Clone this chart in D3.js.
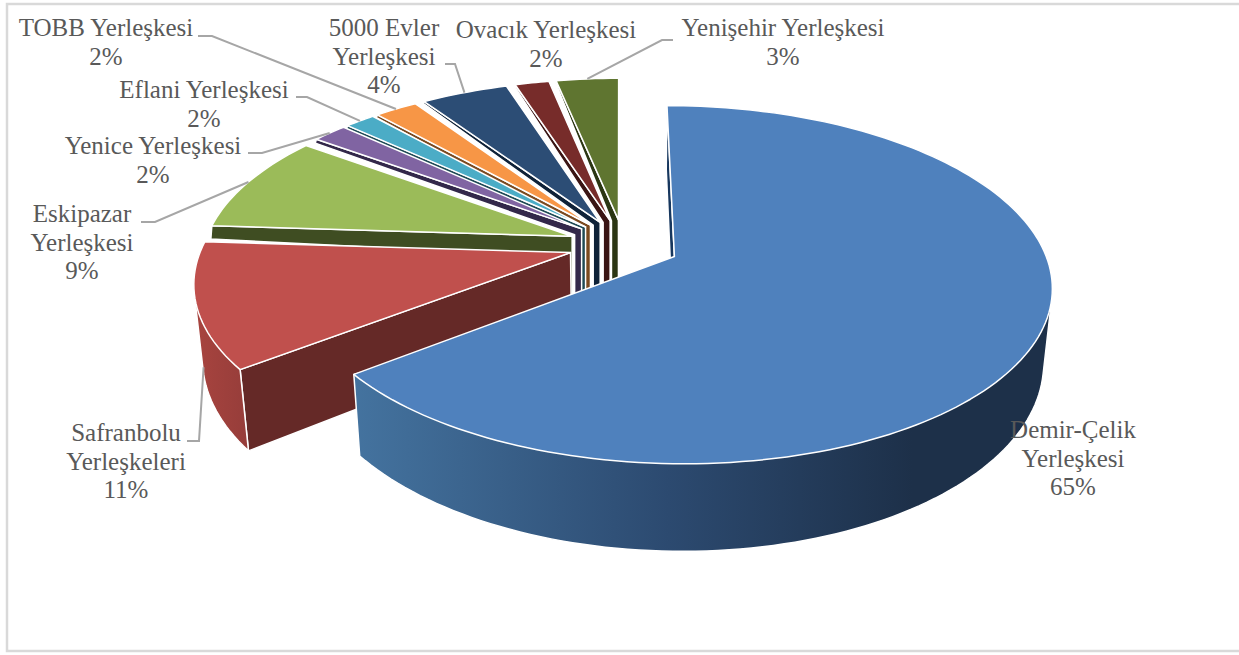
<!DOCTYPE html>
<html>
<head>
<meta charset="utf-8">
<script src="https://cdn.jsdelivr.net/npm/d3@7"></script>
<style>
	html, body { margin:0; padding:0; background:#fff; }
	svg { display:block; }
	.label { font-family:"Liberation Serif", serif; font-size:25px; fill:#595959; text-anchor:middle; }
	.leader { fill:none; stroke:#a6a6a6; stroke-width:2; }
	.edge { stroke:#fff; stroke-width:1.5; stroke-linejoin:round; }
</style>
</head>
<body>
<div id="chart"></div>
<script>
// slices, clockwise from the top
var names = [
	["Demir-Çelik", "Yerleşkesi"],
	["Safranbolu", "Yerleşkeleri"],
	["Eskipazar", "Yerleşkesi"],
	["Yenice Yerleşkesi"],
	["Eflani Yerleşkesi"],
	["TOBB Yerleşkesi"],
	["5000 Evler", "Yerleşkesi"],
	["Ovacık Yerleşkesi"],
	["Yenişehir Yerleşkesi"]
];
var values = [64.55, 11.45, 9.0, 1.8, 1.55, 2.2, 4.45, 1.75, 3.2];

// colours: top face, cut face
var topColors  = ["#4f81bd", "#c0504d", "#9bbb59", "#8064a2", "#4bacc6", "#f79646", "#2c4d75", "#772c2a", "#5f7530"];
var wallColors = ["#17375e", "#652927", "#3f4d22", "#33284a", "#1f4a55", "#7b4a20", "#0f2238", "#3a1514", "#2b3613"];

// label placement: centre x, first baseline, leader elbow (start x, bend x, y)
var labelLayout = [
	{ x:1073, y:438 },
	{ x:126,  y:441, leader:[187, 199, 441], at:0.5, z:0.8 },
	{ x:82,   y:222, leader:[141, 155, 222] },
	{ x:153,  y:154, leader:[248, 262, 153] },
	{ x:204,  y:98,  leader:[296, 307, 97] },
	{ x:106,  y:36,  leader:[198, 212, 36] },
	{ x:384,  y:36,  leader:[445, 455, 64] },
	{ x:546,  y:38 },
	{ x:783,  y:36,  leader:[673, 662, 40] }
];

var width = 1239, height = 655;

// camera of the tilted pie
var center = { x:624, y:245 };
var radius = { x:368, y:171 };
var perspective = 0.156;
var explode = 0.151;
var depth = 73;
var shrink = 0.02;
var toRad = Math.PI / 180;

var xScale = d3.scaleLinear().domain([-1, 1]).range([center.x - radius.x, center.x + radius.x]);
var yScale = d3.scaleLinear().domain([-1, 1]).range([center.y - radius.y, center.y + radius.y]);

// how far the cut face of a back slice shows, by direction of the slice
var bandDrop = d3.scaleLinear().domain([288, 308, 333, 354]).range([22, 6, 3, 1]).clamp(true);
var bandShift = 7;

var pie = d3.pie().sort(null).value(function(d) { return d; })
	.startAngle(-0.1 * toRad).endAngle(359.9 * toRad);
var slices = pie(values);

function midAngle(d) { return (d.startAngle + d.endAngle) / 2; }

// point of slice d at angle a, radius r, depth z (0 top face, 1 bottom face)
function project(d, a, r, z) {
	var m = midAngle(d);
	var u = explode * Math.sin(m) + r * Math.sin(a);
	var v = -explode * Math.cos(m) - r * Math.cos(a);
	var w = 1 - perspective * v;
	return [ xScale(u / (w + shrink * z)), yScale(v / w) + depth * z / w ];
}

function arcPoints(d, from, to, z) {
	var n = Math.max(8, Math.round(Math.abs(to - from) / (toRad * 1.5)));
	return d3.range(n + 1).map(function(i) { return project(d, from + (to - from) * i / n, 1, z); });
}

var line = d3.line();
function closed(points) { return line(points) + "Z"; }

var svg = d3.select("#chart").append("svg").attr("width", width).attr("height", height);
var defs = svg.append("defs");

function wallGradient(id, stops) {
	var g = defs.append("linearGradient").attr("id", id);
	stops.forEach(function(s) { g.append("stop").attr("offset", s[0]).attr("stop-color", s[1]); });
}
wallGradient("wall-blue", [[0, "#44739f"], [0.45, "#2c4a70"], [0.8, "#1d3049"], [1, "#1d3049"]]);
wallGradient("wall-red", [[0, "#a8443f"], [1, "#963d3a"]]);

// frame, open on the right
svg.append("path")
	.attr("d", line([[width, 4], [7, 4], [7, 651], [width, 651]]))
	.attr("fill", "none").attr("stroke", "#d9d9d9").attr("stroke-width", 2.5);

var pieGroup = svg.append("g").attr("class", "slices");

// back slices first, the big front one last
var order = d3.range(1, slices.length).reverse().concat([0]);

order.forEach(function(i) {
	var d = slices[i];
	var g = pieGroup.append("g");
	var tip = project(d, d.startAngle, 0, 0);
	var corner = project(d, d.startAngle, 1, 0);
	var deg = midAngle(d) / toRad;

	if (i < 2) {
		// cut face, real height
		g.append("path").attr("class", "edge")
			.attr("d", closed([tip, corner, project(d, d.startAngle, 1, 1), project(d, d.startAngle, 0, 1)]))
			.attr("fill", wallColors[i]);

		// rim, only the part that faces the viewer
		var from = i === 0 ? 70 * toRad : d.startAngle;
		var rim = d3.polygonHull(arcPoints(d, from, d.endAngle, 0).concat(arcPoints(d, from, d.endAngle, 1)));
		g.append("path").attr("class", "edge")
			.attr("d", closed(rim))
			.attr("fill", i === 0 ? "url(#wall-blue)" : "url(#wall-red)");
	} else {
		var drop = bandDrop(deg);
		g.append("path").attr("class", "edge")
			.attr("d", closed([
				corner, tip,
				[tip[0], tip[1] + depth], [tip[0] - bandShift, tip[1] + depth],
				[tip[0] - bandShift, tip[1] + drop],
				[corner[0] - 1, corner[1] + drop * 0.65]
			]))
			.attr("fill", wallColors[i]);
	}

	g.append("path").attr("class", "edge")
		.attr("d", closed([tip].concat(arcPoints(d, d.startAngle, d.endAngle, 0))))
		.attr("fill", topColors[i]);
});

// leaders from the label elbow to the rim of the slice
svg.append("g").selectAll("path")
	.data(slices.filter(function(d) { return labelLayout[d.index].leader; }))
	.enter().append("path")
	.attr("class", "leader")
	.attr("d", function(d) {
		var l = labelLayout[d.index];
		var t = l.at === undefined ? 0.5 : l.at;
		var end = project(d, d.startAngle + (d.endAngle - d.startAngle) * t, 1, l.z || 0);
		return line([[l.leader[0], l.leader[2]], [l.leader[1], l.leader[2]], end]);
	});

// labels
var percent = function(v) { return Math.round(v) + "%"; };
var labels = svg.append("g").selectAll("text")
	.data(slices)
	.enter().append("text")
	.attr("class", "label")
	.attr("transform", function(d) { return "translate(" + labelLayout[d.index].x + "," + labelLayout[d.index].y + ")"; });

labels.selectAll("tspan")
	.data(function(d) { return names[d.index].concat([percent(d.value)]); })
	.enter().append("tspan")
	.attr("x", 0)
	.attr("y", function(d, i) { return i * 28.5; })
	.text(function(d) { return d; });
</script>
</body>
</html>
